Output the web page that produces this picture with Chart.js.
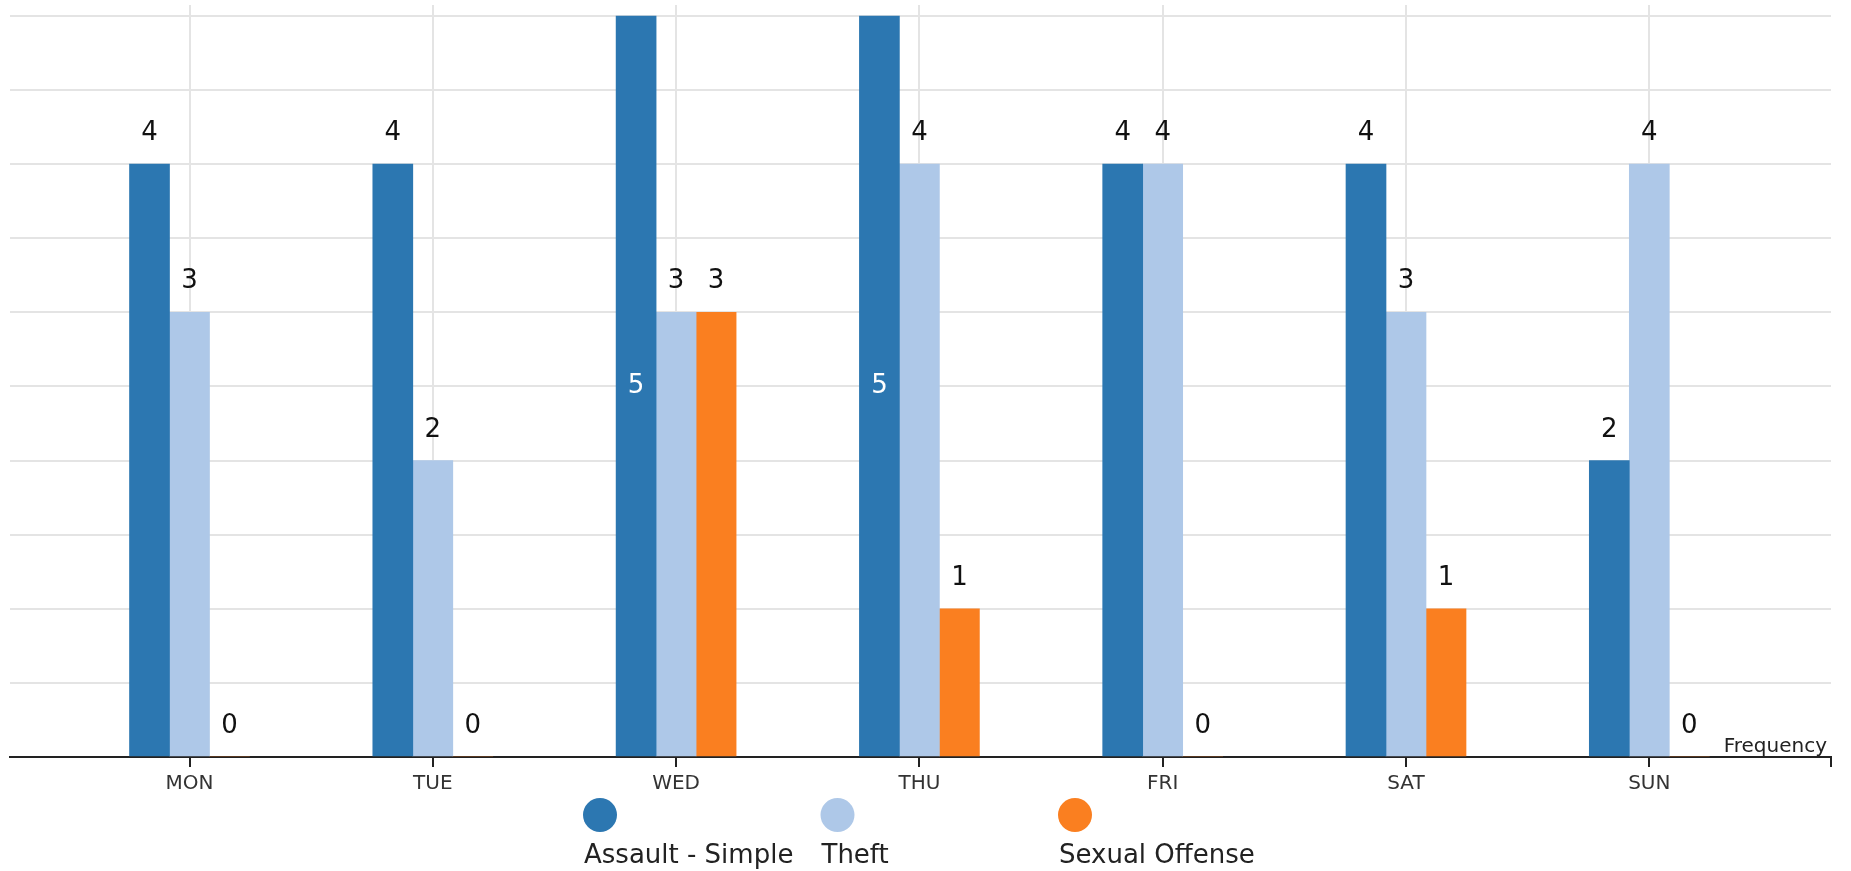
<!DOCTYPE html>
<html>
<head>
<meta charset="utf-8">
<script src="https://cdn.jsdelivr.net/npm/chart.js@4.4.1/dist/chart.umd.min.js"></script>
<style>
  html, body { margin: 0; padding: 0; background: #fff; }
  canvas { display: block; }
</style>
</head>
<body>
<canvas id="c" width="1851" height="871"></canvas>
<script>
const days = ['MON', 'TUE', 'WED', 'THU', 'FRI', 'SAT', 'SUN'];
const seriesNames = ['Assault - Simple', 'Theft', 'Sexual Offense'];
const assault = [4, 4, 5, 5, 4, 4, 2];
const theft = [3, 2, 3, 4, 4, 3, 4];
const sexual = [0, 0, 3, 1, 0, 1, 0];
const yGridValues = [0, 0.5, 1, 1.5, 2, 2.5, 3, 3.5, 4, 4.5, 5];
const seriesColors = ['#2c77b1', '#aec8e8', '#fa7f20'];
const yAxisLabel = 'Frequency';

const FONT = '"DejaVu Sans", Verdana, sans-serif';
const X_MIN = -0.7378, X_MAX = 6.7468, Y_MAX = 5.074;

function toPoints(arr) { return arr.map((v, i) => ({ x: i, y: v })); }

const valueLabels = {
  id: 'valueLabels',
  afterDatasetsDraw(chart) {
    const ctx = chart.ctx;
    ctx.save();
    ctx.font = '26px ' + FONT;
    ctx.textAlign = 'center';
    chart.data.datasets.forEach((ds, di) => {
      const meta = chart.getDatasetMeta(di);
      meta.data.forEach((el, i) => {
        const v = ds.data[i].y;
        const txt = String(v);
        if (el.y - 24 - 19 < 0) {
          ctx.fillStyle = '#ffffff';
          ctx.textBaseline = 'middle';
          ctx.fillText(txt, el.x, (el.y + el.base) / 2);
        } else {
          ctx.fillStyle = '#111111';
          ctx.textBaseline = 'alphabetic';
          ctx.fillText(txt, el.x, el.y - 24);
        }
      });
    });
    ctx.restore();
  }
};

const extras = {
  id: 'extras',
  afterDraw(chart) {
    const ctx = chart.ctx;
    const area = chart.chartArea;
    ctx.save();
    // axis label
    ctx.font = '20px ' + FONT;
    ctx.fillStyle = '#222222';
    ctx.textAlign = 'right';
    ctx.textBaseline = 'alphabetic';
    ctx.fillText(yAxisLabel, area.right - 4, area.bottom - 5);
    // legend
    const startX = 583, step = 237.5, r = 17, cy = 815, ty = 863;
    chart.data.datasets.forEach((ds, i) => {
      const left = startX + i * step;
      ctx.beginPath();
      ctx.fillStyle = ds.backgroundColor;
      ctx.arc(left + r, cy, r, 0, Math.PI * 2);
      ctx.fill();
      ctx.font = '26px ' + FONT;
      ctx.fillStyle = '#222222';
      ctx.textAlign = 'left';
      ctx.fillText(ds.label, left + 1, ty);
    });
    ctx.restore();
  }
};

const seriesData = [assault, theft, sexual];

new Chart(document.getElementById('c'), {
  type: 'bar',
  data: {
    datasets: seriesData.map((arr, i) => ({
      label: seriesNames[i],
      data: toPoints(arr),
      backgroundColor: seriesColors[i],
      borderWidth: 0,
      barThickness: 40
    }))
  },
  options: {
    responsive: false,
    animation: false,
    layout: { padding: { left: 10, right: 20, top: 5, bottom: 0 } },
    plugins: { legend: { display: false }, tooltip: { enabled: false } },
    scales: {
      x: {
        type: 'linear',
        min: X_MIN,
        max: X_MAX,
        offset: false,
        afterBuildTicks(scale) {
          scale.ticks = days.map((d, i) => ({ value: i })).concat([{ value: X_MAX }]);
        },
        afterFit(scale) { scale.height = 114; },
        ticks: {
          autoSkip: false,
          maxRotation: 0,
          padding: 5,
          color: '#333333',
          font: { family: FONT, size: 20 },
          callback: (v) => (days[v] !== undefined ? days[v] : '')
        },
        grid: {
          offset: false,
          color: (c) => (c.tick && Number.isInteger(c.tick.value) ? '#e4e4e4' : 'rgba(0,0,0,0)'),
          lineWidth: 2,
          tickColor: '#222222',
          tickLength: 10,
          tickWidth: 2
        },
        border: { color: '#222222', width: 2 }
      },
      y: {
        type: 'linear',
        min: 0,
        max: Y_MAX,
        afterBuildTicks(scale) {
          scale.ticks = yGridValues.map(v => ({ value: v }));
        },
        afterFit(scale) { scale.width = 0; },
        ticks: { display: false },
        grid: {
          color: (c) => (c.tick && c.tick.value === 0 ? 'rgba(0,0,0,0)' : '#e4e4e4'),
          lineWidth: 2,
          drawTicks: false
        },
        border: { display: false }
      }
    }
  },
  plugins: [valueLabels, extras]
});
</script>
</body>
</html>
